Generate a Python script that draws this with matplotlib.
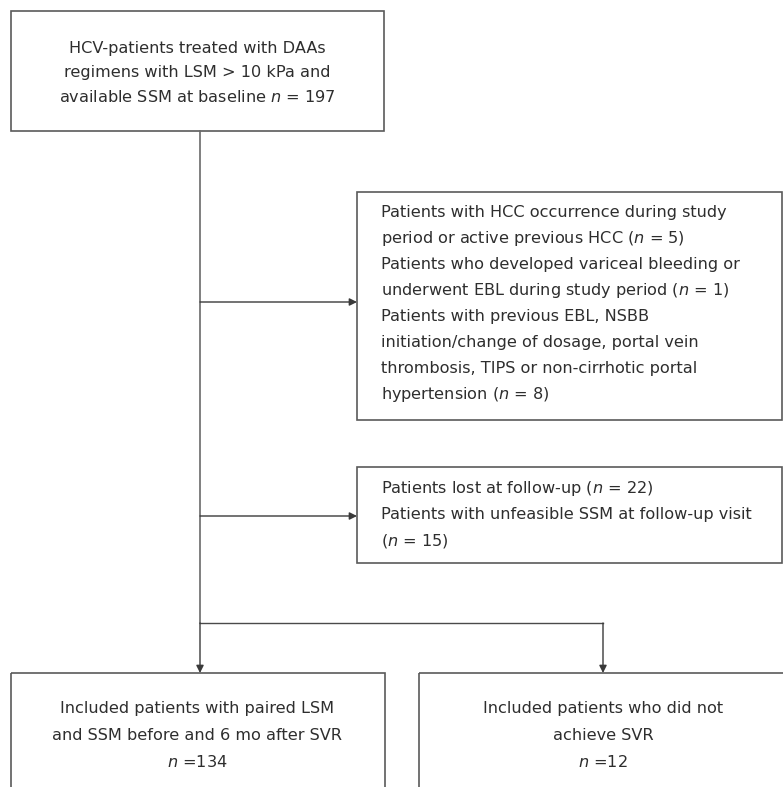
import matplotlib
matplotlib.use("Agg")
import matplotlib.pyplot as plt
from matplotlib.patches import Rectangle

plt.rcParams['font.family'] = ['DejaVu Sans']
plt.rcParams['mathtext.fontset'] = 'dejavusans'

# flowchart content
top_lines = ["HCV-patients treated with DAAs",
             "regimens with LSM > 10 kPa and",
             "available SSM at baseline $n$ = 197"]
excl1_lines = ["Patients with HCC occurrence during study",
               "period or active previous HCC ($n$ = 5)",
               "Patients who developed variceal bleeding or",
               "underwent EBL during study period ($n$ = 1)",
               "Patients with previous EBL, NSBB",
               "initiation/change of dosage, portal vein",
               "thrombosis, TIPS or non-cirrhotic portal",
               "hypertension ($n$ = 8)"]
excl2_lines = ["Patients lost at follow-up ($n$ = 22)",
               "Patients with unfeasible SSM at follow-up visit",
               "($n$ = 15)"]
incl_lines = ["Included patients with paired LSM",
              "and SSM before and 6 mo after SVR",
              "$n$ =134"]
nosvr_lines = ["Included patients who did not",
               "achieve SVR",
               "$n$ =12"]

W, H = 783, 787
fig = plt.figure(figsize=(W / 100, H / 100), dpi=100)
ax = fig.add_axes([0, 0, 1, 1])
ax.set_xlim(0, W)
ax.set_ylim(H, 0)
ax.axis("off")

edge = "#5a5a5a"
txt_c = "#2e2e2e"
fs = 11.6
step = 26


def box(x0, y0, x1, y1):
    ax.add_patch(Rectangle((x0, y0), x1 - x0, y1 - y0, fill=False,
                           edgecolor=edge, lw=1.2))


def lines(items, x, y0, ha="left", sp=step):
    for i, s in enumerate(items):
        ax.text(x, y0 + i * sp, s, ha=ha, va="center", fontsize=fs, color=txt_c)


def arrow(x0, y0, x1, y1):
    ax.annotate("", xy=(x1, y1), xytext=(x0, y0),
                arrowprops=dict(arrowstyle="-|>", color="#3a3a3a", lw=1.0,
                                mutation_scale=11, shrinkA=0, shrinkB=0))


# boxes
box(10.5, 10.5, 384, 131)
box(357, 192, 781.5, 420)
box(357, 467, 781.5, 563)
box(10.5, 673, 385, 800)
box(419, 673, 800, 800)

lines(top_lines, 197, 48, ha="center", sp=24.5)
lines(excl1_lines, 381, 212)
lines(excl2_lines, 381, 489)
lines(incl_lines, 197, 708, ha="center", sp=27)
lines(nosvr_lines, 603, 708, ha="center", sp=27)

# connectors
ax.plot([200, 200], [131, 623], color="#6a6a6a", lw=1.2)
arrow(200, 302, 357, 302)
arrow(200, 516, 357, 516)
ax.plot([200, 603], [623, 623], color="#4a4a4a", lw=1.0)
arrow(200, 623, 200, 673)
arrow(603, 623, 603, 673)

fig.savefig("out.png", dpi=100)
